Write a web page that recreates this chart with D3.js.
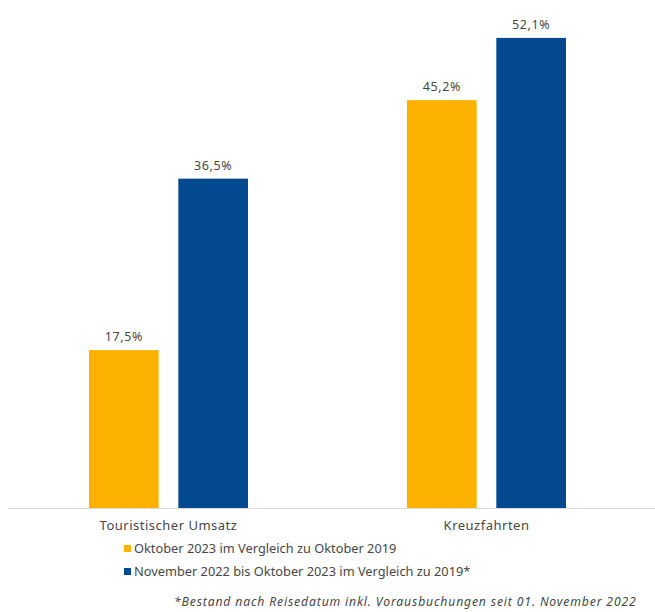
<!DOCTYPE html>
<html>
<head>
<meta charset="utf-8">
<script src="https://cdn.jsdelivr.net/npm/d3@7"></script>
<style>
  body { margin: 0; background: #fff; }
  text { font-family: "Noto Sans", sans-serif; fill: #474747; }
</style>
</head>
<body>
<script>
const categories = ["Touristischer Umsatz", "Kreuzfahrten"]
const seriesNames = [
    "Oktober 2023 im Vergleich zu Oktober 2019",
    "November 2022 bis Oktober 2023 im Vergleich zu 2019*"
]
const oktober2023 = [17.5, 45.2]
const nov22bisOkt23 = [36.5, 52.1]
const colors = ["#FDB100", "#03498F"]
const footnote = "*Bestand nach Reisedatum inkl. Vorausbuchungen seit 01. November 2022"

const width = 655, height = 612
const baseY = 508

const svg = d3.select("body").append("svg")
    .attr("width", width)
    .attr("height", height)

const x0 = d3.scaleBand()
    .domain(categories)
    .range([9.5, 645.5])
    .paddingInner(0)
    .paddingOuter(0)

const x1 = d3.scaleBand()
    .domain([0, 1])
    .range([0, x0.bandwidth()])
    .paddingInner(0.22)
    .paddingOuter(0.89)

const y = d3.scaleLinear()
    .domain([0, 56.3])
    .range([baseY, 0])

const series = [oktober2023, nov22bisOkt23]

// bars + value labels
series.forEach((vals, s) => {
    const g = svg.append("g")
    g.selectAll("rect")
        .data(vals)
        .enter().append("rect")
        .attr("x", (d, i) => x0(categories[i]) + x1(s))
        .attr("y", d => y(d))
        .attr("width", x1.bandwidth())
        .attr("height", d => baseY - y(d))
        .attr("fill", colors[s])
    g.selectAll("text")
        .data(vals)
        .enter().append("text")
        .attr("x", (d, i) => x0(categories[i]) + x1(s) + x1.bandwidth() / 2)
        .attr("y", d => y(d) - 9)
        .attr("text-anchor", "middle")
        .style("font-size", "12.5px")
        .style("letter-spacing", "0.6px")
        .text(d => d.toFixed(1).replace(".", ",") + "%")
})

// x axis
const xAxis = svg.append("g")
    .attr("transform", "translate(0," + baseY + ")")
    .call(d3.axisBottom(x0).tickSize(0).tickPadding(13))
xAxis.select(".domain").attr("d", "M8,0.5H655").attr("stroke", "#d9d9d9")
xAxis.selectAll("text")
    .style("font-size", "13px")
    .style("letter-spacing", "0.5px")
    .style("font-family", "Noto Sans, sans-serif")
    .attr("fill", "#474747")

// legend
const legend = svg.append("g")
    .selectAll("g")
    .data(seriesNames)
    .enter().append("g")
    .attr("transform", (d, i) => "translate(124," + (549 + i * 23) + ")")
legend.append("rect")
    .attr("x", 0).attr("y", -4)
    .attr("width", 7).attr("height", 7)
    .attr("fill", (d, i) => colors[i])
legend.append("text")
    .attr("x", 10)
    .attr("dy", "0.35em")
    .style("font-size", "12.8px")
    .text(d => d)

// footnote, kept just inside the right edge
svg.append("text")
    .attr("x", 174)
    .attr("y", 606)
    .style("font-size", "12.2px")
    .style("font-style", "italic")
    .style("letter-spacing", "0.85px")
    .text(footnote)
</script>
</body>
</html>
